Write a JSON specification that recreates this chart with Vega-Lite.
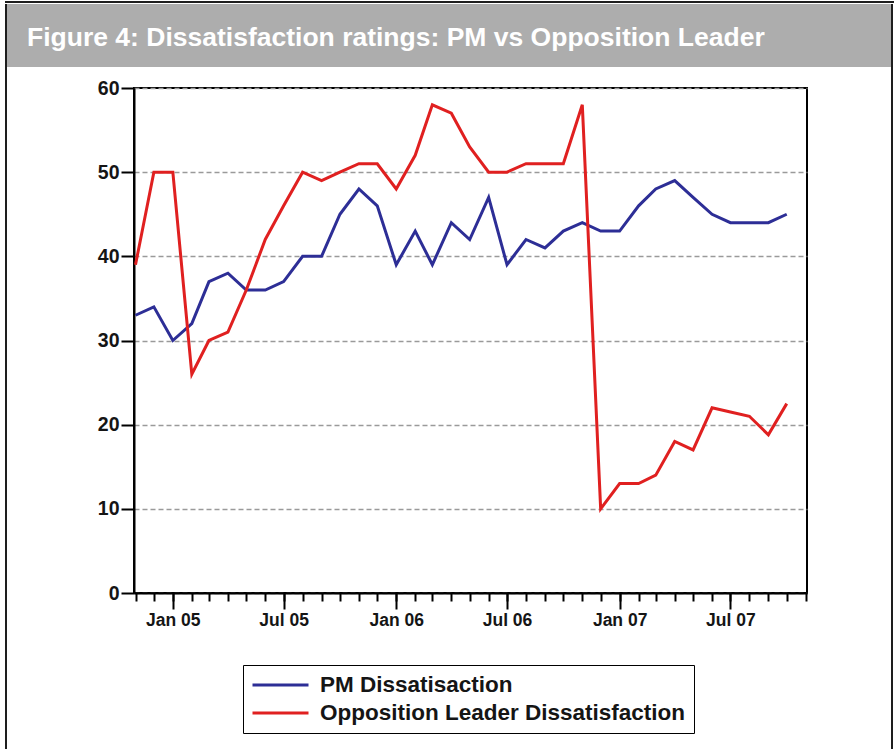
{
  "$schema": "https://vega.github.io/schema/vega-lite/v6.json",
  "padding": {"left": 5, "top": 1, "right": 0, "bottom": 0},
  "background": "white",
  "config": {
    "font": "Liberation Sans",
    "view": {"stroke": null},
    "concat": {"spacing": 0}
  },
  "datasets": {
    "ratings": [
      {"month": "2004-11-01", "PM Dissatisaction": 33, "Opposition Leader Dissatisfaction": 39},
      {"month": "2004-12-01", "PM Dissatisaction": 34, "Opposition Leader Dissatisfaction": 50},
      {"month": "2005-01-01", "PM Dissatisaction": 30, "Opposition Leader Dissatisfaction": 50},
      {"month": "2005-02-01", "PM Dissatisaction": 32, "Opposition Leader Dissatisfaction": 26},
      {"month": "2005-03-01", "PM Dissatisaction": 37, "Opposition Leader Dissatisfaction": 30},
      {"month": "2005-04-01", "PM Dissatisaction": 38, "Opposition Leader Dissatisfaction": 31},
      {"month": "2005-05-01", "PM Dissatisaction": 36, "Opposition Leader Dissatisfaction": 36},
      {"month": "2005-06-01", "PM Dissatisaction": 36, "Opposition Leader Dissatisfaction": 42},
      {"month": "2005-07-01", "PM Dissatisaction": 37, "Opposition Leader Dissatisfaction": 46},
      {"month": "2005-08-01", "PM Dissatisaction": 40, "Opposition Leader Dissatisfaction": 50},
      {"month": "2005-09-01", "PM Dissatisaction": 40, "Opposition Leader Dissatisfaction": 49},
      {"month": "2005-10-01", "PM Dissatisaction": 45, "Opposition Leader Dissatisfaction": 50},
      {"month": "2005-11-01", "PM Dissatisaction": 48, "Opposition Leader Dissatisfaction": 51},
      {"month": "2005-12-01", "PM Dissatisaction": 46, "Opposition Leader Dissatisfaction": 51},
      {"month": "2006-01-01", "PM Dissatisaction": 39, "Opposition Leader Dissatisfaction": 48},
      {"month": "2006-02-01", "PM Dissatisaction": 43, "Opposition Leader Dissatisfaction": 52},
      {"month": "2006-03-01", "PM Dissatisaction": 39, "Opposition Leader Dissatisfaction": 58},
      {"month": "2006-04-01", "PM Dissatisaction": 44, "Opposition Leader Dissatisfaction": 57},
      {"month": "2006-05-01", "PM Dissatisaction": 42, "Opposition Leader Dissatisfaction": 53},
      {"month": "2006-06-01", "PM Dissatisaction": 47, "Opposition Leader Dissatisfaction": 50},
      {"month": "2006-07-01", "PM Dissatisaction": 39, "Opposition Leader Dissatisfaction": 50},
      {"month": "2006-08-01", "PM Dissatisaction": 42, "Opposition Leader Dissatisfaction": 51},
      {"month": "2006-09-01", "PM Dissatisaction": 41, "Opposition Leader Dissatisfaction": 51},
      {"month": "2006-10-01", "PM Dissatisaction": 43, "Opposition Leader Dissatisfaction": 51},
      {"month": "2006-11-01", "PM Dissatisaction": 44, "Opposition Leader Dissatisfaction": 58},
      {"month": "2006-12-01", "PM Dissatisaction": 43, "Opposition Leader Dissatisfaction": 10},
      {"month": "2007-01-01", "PM Dissatisaction": 43, "Opposition Leader Dissatisfaction": 13},
      {"month": "2007-02-01", "PM Dissatisaction": 46, "Opposition Leader Dissatisfaction": 13},
      {"month": "2007-03-01", "PM Dissatisaction": 48, "Opposition Leader Dissatisfaction": 14},
      {"month": "2007-04-01", "PM Dissatisaction": 49, "Opposition Leader Dissatisfaction": 18},
      {"month": "2007-05-01", "PM Dissatisaction": 47, "Opposition Leader Dissatisfaction": 17},
      {"month": "2007-06-01", "PM Dissatisaction": 45, "Opposition Leader Dissatisfaction": 22},
      {"month": "2007-07-01", "PM Dissatisaction": 44, "Opposition Leader Dissatisfaction": 21.5},
      {"month": "2007-08-01", "PM Dissatisaction": 44, "Opposition Leader Dissatisfaction": 21},
      {"month": "2007-09-01", "PM Dissatisaction": 44, "Opposition Leader Dissatisfaction": 18.8},
      {"month": "2007-10-01", "PM Dissatisaction": 45, "Opposition Leader Dissatisfaction": 22.5}
    ]
  },
  "bounds": "flush",
  "spacing": 1,
  "vconcat": [
    {
      "width": 889, "height": 2,
      "view": {"fill": "#1e1e1e", "stroke": null},
      "data": {"values": []},
      "mark": "point"
    },
    {
      "bounds": "full",
      "spacing": 0,
      "hconcat": [
        {
          "width": 2, "height": 745,
          "view": {"fill": "#1e1e1e", "stroke": null},
          "data": {"values": []},
          "mark": "point"
        },
        {
          "bounds": "flush",
          "spacing": 21,
          "vconcat": [
            {
              "width": 884, "height": 63,
              "view": {"fill": "#adadad", "stroke": null},
              "data": {"values": []},
              "mark": "point",
              "title": {
                "text": "Figure 4: Dissatisfaction ratings: PM vs Opposition Leader",
                "orient": "top",
                "anchor": "start",
                "frame": "group",
                "offset": -41,
                "baseline": "alphabetic",
                "dx": 20,
                "dy": 27,
                "color": "white",
                "font": "Liberation Sans",
                "fontSize": 26.5,
                "fontWeight": "bold"
              }
            },
            {
              "bounds": "flush",
              "spacing": 0,
              "hconcat": [
                {
                  "width": 127, "height": 505,
                  "view": {"stroke": null},
                  "data": {"values": []},
                  "mark": "point"
                },
                {
                  "width": 673, "height": 505,
                  "view": {"stroke": "black", "strokeWidth": 2},
                  "data": {"name": "ratings"},
                  "transform": [
                    {"fold": ["PM Dissatisaction", "Opposition Leader Dissatisfaction"], "as": ["series", "value"]}
                  ],
                  "layer": [
                    {
                      "mark": {"type": "line", "strokeWidth": 3},
                      "encoding": {
                        "x": {
                          "field": "month", "type": "temporal",
                          "scale": {
                            "type": "utc",
                            "domain": [
                              {"year": 2004, "month": 10, "date": 29, "hours": 13, "utc": true},
                              {"year": 2007, "month": 11, "date": 3, "hours": 3, "utc": true}
                            ]
                          },
                          "axis": {
                            "orient": "bottom",
                            "title": null,
                            "labels": false,
                            "grid": false,
                            "tickCount": {"interval": "month", "step": 1},
                            "tickSize": 8,
                            "tickWidth": 2,
                            "tickColor": "black",
                            "domainColor": "black",
                            "domainWidth": 2
                          }
                        },
                        "y": {
                          "field": "value", "type": "quantitative",
                          "scale": {"domain": [0, 60], "nice": false},
                          "axis": {
                            "title": null,
                            "values": [0, 10, 20, 30, 40, 50, 60],
                            "grid": true,
                            "gridDash": [5, 3],
                            "gridColor": "#9a9a9a",
                            "gridWidth": 1.3,
                            "tickSize": 13,
                            "tickWidth": 2,
                            "tickColor": "black",
                            "domainColor": "black",
                            "domainWidth": 2,
                            "labelFontSize": 19.5,
                            "labelFontWeight": "bold",
                            "labelColor": "#151515",
                            "labelPadding": 2
                          }
                        },
                        "color": {
                          "field": "series", "type": "nominal",
                          "scale": {
                            "domain": ["PM Dissatisaction", "Opposition Leader Dissatisfaction"],
                            "range": ["#2d2e96", "#e02020"]
                          },
                          "legend": {
                            "title": null,
                            "orient": "none",
                            "legendX": 238,
                            "legendY": 664,
                            "direction": "vertical",
                            "symbolType": "stroke",
                            "symbolSize": 3136,
                            "symbolStrokeWidth": 3,
                            "labelFontSize": 22.5,
                            "labelFontWeight": "bold",
                            "labelColor": "#151515",
                            "labelLimit": 600,
                            "labelOffset": 10,
                            "strokeColor": "black",
                            "padding": 8,
                            "clipHeight": 24,
                            "rowPadding": 4
                          }
                        }
                      }
                    },
                    {
                      "mark": {"type": "point", "opacity": 0},
                      "encoding": {
                        "x": {
                          "field": "month", "type": "temporal",
                          "axis": {
                            "orient": "bottom",
                            "title": null,
                            "grid": false,
                            "domain": false,
                            "format": "%b %y",
                            "tickCount": {"interval": "month", "step": 6},
                            "tickSize": 16,
                            "tickWidth": 2,
                            "tickColor": "black",
                            "labelFontSize": 17.5,
                            "labelFontWeight": "bold",
                            "labelColor": "#151515",
                            "labelPadding": 2,
                            "labelFlush": false,
                            "labelOverlap": false
                          }
                        }
                      }
                    }
                  ],
                  "resolve": {"axis": {"x": "independent"}}
                }
              ]
            }
          ]
        },
        {
          "width": 2, "height": 745,
          "view": {"fill": "#1e1e1e", "stroke": null},
          "data": {"values": []},
          "mark": "point"
        }
      ]
    }
  ]
}
